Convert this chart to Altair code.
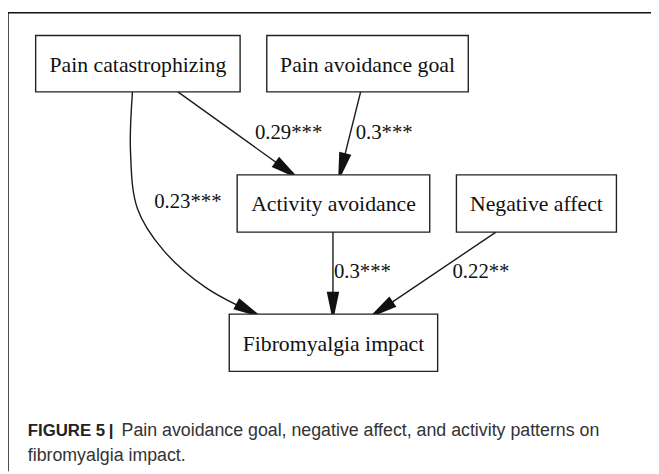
import math
import altair as alt
import pandas as pd

# ---- content ----
node_names = ["Pain catastrophizing", "Pain avoidance goal", "Activity avoidance",
              "Negative affect", "Fibromyalgia impact"]
edge_from = ["Pain catastrophizing", "Pain avoidance goal", "Pain catastrophizing",
             "Activity avoidance", "Negative affect"]
edge_to = ["Activity avoidance", "Activity avoidance", "Fibromyalgia impact",
           "Fibromyalgia impact", "Fibromyalgia impact"]
edge_labels = ["0.29***", "0.3***", "0.23***", "0.3***", "0.22**"]
caption_bold = "FIGURE 5"
caption_line1 = "Pain avoidance goal, negative affect, and activity patterns on"
caption_line2 = "fibromyalgia impact."

# ---- layout (pixel positions of the drawing) ----
box_x1 = [36, 270, 240, 462, 232]
box_x2 = [243, 474, 435, 624, 443]
box_y1 = [33, 33, 174, 174, 315]
box_y2 = [90, 90, 232, 232, 373]

# edge polylines (start ... tip)
edge_paths = [
    [(180, 90), (297, 174)],
    [(365, 90), (344, 174)],
    [(134, 90), (132, 150), (139, 208), (165, 250), (208, 288), (259, 315)],
    [(337, 232), (337, 315)],
    [(502, 232), (379, 315)],
]
label_x = [258, 360, 156, 338, 458]
label_y = [132, 132, 202, 272, 272]

W, H = 659, 474
X0, Y0 = 8, 8
xs = alt.Scale(domain=[X0, W], range=[0, W - X0], nice=False, zero=False)
ys = alt.Scale(domain=[Y0, H], range=[0, H - Y0], nice=False, zero=False)

def X(f):
    return alt.X(f, type="quantitative", scale=xs, axis=None)

def Y(f):
    return alt.Y(f, type="quantitative", scale=ys, axis=None)

# frame
frame = pd.DataFrame({"x": [8, 8], "y": [10, 10], "x2": [659, 8], "y2": [10, 474]})
frame_l = alt.Chart(frame).mark_rule(color="#111", strokeWidth=1.5).encode(
    x=X("x"), y=Y("y"), x2="x2", y2="y2")

# edges
rows = []
for i, path in enumerate(edge_paths):
    for j, (px, py) in enumerate(path):
        rows.append({"edge": i, "k": j, "x": px, "y": py})
edges_df = pd.DataFrame(rows)
edge_lines = alt.Chart(edges_df).mark_line(
    color="#1a1a1a", strokeWidth=1.4, interpolate="catmull-rom").encode(
    x=X("x"), y=Y("y"), detail="edge:N", order="k:Q")

# arrowheads
HEAD = 15
heads = []
for i, path in enumerate(edge_paths):
    (ax, ay), (bx, by) = path[-2], path[-1]
    dx, dy = bx - ax, by - ay
    n = math.hypot(dx, dy)
    ux, uy = dx / n, dy / n
    ang = math.degrees(math.atan2(dx, -dy)) % 360
    heads.append({"x": bx - ux * HEAD / 2, "y": by - uy * HEAD / 2, "angle": ang})
heads_df = pd.DataFrame(heads)
head_marks = alt.Chart(heads_df).mark_point(
    shape="M0,-1L0.42,1L-0.42,1Z", filled=True, color="#111", opacity=1,
    size=HEAD * HEAD * 4, strokeWidth=0).encode(
    x=X("x"), y=Y("y"), angle=alt.Angle("angle:Q", scale=None))

# boxes
boxes_df = pd.DataFrame({"name": node_names, "x1": box_x1, "x2": box_x2,
                         "y1": box_y1, "y2": box_y2})
boxes_df["cx"] = (boxes_df.x1 + boxes_df.x2) / 2
boxes_df["cy"] = (boxes_df.y1 + boxes_df.y2) / 2 + 1
box_rects = alt.Chart(boxes_df).mark_rect(
    fill="white", stroke="#222", strokeWidth=1.4).encode(
    x=X("x1"), x2="x2", y=Y("y1"), y2="y2")
box_text = alt.Chart(boxes_df).mark_text(
    font="Liberation Serif", fontSize=22, color="#111", align="center",
    baseline="middle").encode(x=X("cx"), y=Y("cy"), text="name:N")

# edge labels
lab_df = pd.DataFrame({"label": edge_labels, "x": label_x, "y": label_y})
lab_text = alt.Chart(lab_df).mark_text(
    font="Liberation Serif", fontSize=21, color="#111", align="left",
    baseline="middle").encode(x=X("x"), y=Y("y"), text="label:N")

# caption
cap_bold_df = pd.DataFrame({"t": [caption_bold, "|"], "x": [28, 110], "y": [433, 433]})
cap_bold = alt.Chart(cap_bold_df).mark_text(
    font="Liberation Sans", fontSize=17, fontWeight="bold", color="#222",
    align="left", baseline="middle").encode(x=X("x"), y=Y("y"), text="t:N")
cap_df = pd.DataFrame({"t": [caption_line1, caption_line2], "x": [123, 28], "y": [433, 459]})
cap = alt.Chart(cap_df).mark_text(
    font="Liberation Sans", fontSize=18, color="#333",
    align="left", baseline="middle").encode(x=X("x"), y=Y("y"), text="t:N")

chart = alt.layer(frame_l, edge_lines, head_marks, box_rects, box_text, lab_text,
                  cap_bold, cap).properties(
    width=W - X0, height=H - Y0,
    autosize=alt.AutoSizeParams(type="none"), padding=0,
    background="white").configure_view(stroke=None)

chart.save("out.html", embed_options={"renderer": "svg", "actions": False})
